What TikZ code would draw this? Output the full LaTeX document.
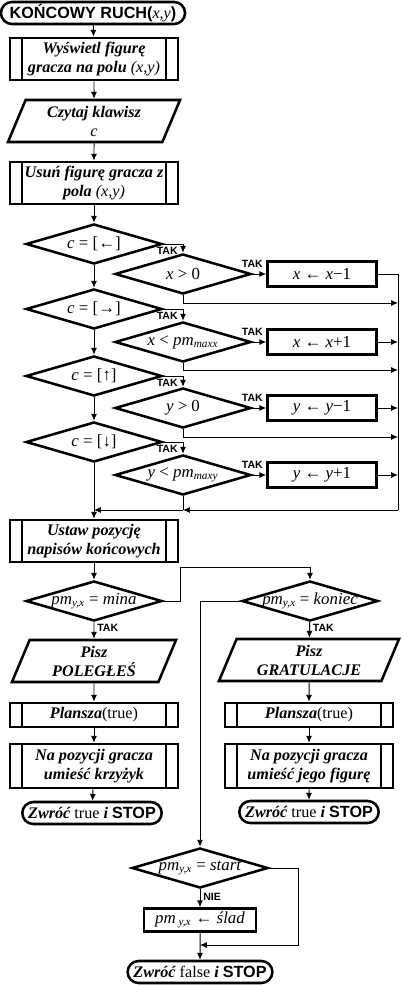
\documentclass[tikz,border=0pt]{standalone}
\usepackage{fontspec}
\setmainfont{Liberation Serif}
\setsansfont{Liberation Sans}
\usetikzlibrary{shapes.geometric,shapes.misc,arrows.meta}
\tikzset{
  base/.style={draw,line width=1.8pt,align=center,inner sep=1pt,
    font=\fontsize{11.5}{13.5}\selectfont\bfseries\itshape},
  term/.style={base,rounded rectangle,minimum height=0.55cm,inner xsep=3pt},
  subproc/.style={base,rectangle,minimum width=4.2cm,minimum height=1.05cm,
    path picture={\draw[line width=1.3pt]
      ([xshift=0.3cm]path picture bounding box.north west) -- ([xshift=0.3cm]path picture bounding box.south west)
      ([xshift=-0.3cm]path picture bounding box.north east) -- ([xshift=-0.3cm]path picture bounding box.south east);}},
  io/.style={base,trapezium,trapezium left angle=62,trapezium right angle=118,
    trapezium stretches body,minimum width=4.3cm,minimum height=1.05cm},
  dec/.style={base,diamond,aspect=3.4,minimum width=3.4cm,minimum height=1cm,
    inner xsep=-20pt,inner ysep=0pt,font=\fontsize{12}{13}\selectfont},
  act/.style={base,rectangle,minimum width=2.725cm,minimum height=0.625cm,
    font=\fontsize{12}{13}\selectfont},
  tak/.style={font=\fontsize{7.5}{9}\selectfont\sffamily\bfseries,inner sep=0pt},
  line/.style={line width=0.7pt,-{Latex[length=1.7mm,width=1.5mm]}},
  rail/.style={line width=0.7pt}
}
\begin{document}
\begin{tikzpicture}[x=0.025cm,y=-0.025cm]
\useasboundingbox (0,0) rectangle (402,985);
\node[term,font=\fontsize{11.5}{13}\selectfont\sffamily\bfseries] (kr) at (93,13) {KOŃCOWY RUCH({\rmfamily\mdseries\itshape x,y})};
\node[subproc] (b1) at (94,59) {Wyświetl figurę\\gracza na polu {\mdseries(x,y)}};
\node[io] (p1) at (94,121) {Czytaj klawisz\\{\mdseries c}};
\node[subproc] (b2) at (94,183) {Usuń figurę gracza z\\pola {\mdseries(x,y)}};
\draw[line] (kr) -- (b1);
\draw[line] (b1) -- (p1);
\draw[line] (p1) -- (b2);
\coordinate (rtop) at (398,274);
\coordinate (rbot) at (398,510);
\foreach \n/\yc/\ys/\key/\cond/\upd in {
  1/244/274/←/{\textit{x} > 0}/{\textit{x} ← \textit{x}−1},
  2/309/342/→/{\textit{x} < \textit{pm}\textsubscript{\textit{maxx}}}/{\textit{x} ← \textit{x}+1},
  3/376/408/↑/{\textit{y} > 0}/{\textit{y} ← \textit{y}−1},
  4/442/475/↓/{\textit{y} < \textit{pm}\textsubscript{\textit{maxy}}}/{\textit{y} ← \textit{y}+1}}{
  \node[dec] (d\n) at (94,\yc) {\textit{c} = [\key]};
  \node[dec] (dx\n) at (183,\ys) {\cond};
  \node[act] (ax\n) at (322,\ys) {\upd};
  \draw[line] (d\n.east) -| (dx\n.north);
  \node[tak,anchor=east] (ta\n) at (178,\yc+7) {TAK};
  \draw[line] (dx\n.east) -- node[tak,above=4pt,pos=0] (tb\n) {TAK} (ax\n.west);
}
\draw[line] (b2) -- (d1);
\draw[line] (d1) -- (d2);
\draw[line] (d2) -- (d3);
\draw[line] (d3) -- (d4);
\draw[rail] (ax1.east) -- (rtop) -- (rbot);
\foreach \n in {2,3,4}{\draw[line] (ax\n.east) -- (ax\n.east -| rbot);}
\foreach \n/\yj in {1/303,2/370,3/437}{
  \coordinate (jb\n) at (183,\yj);
  \draw[line] (dx\n.south) -- (jb\n) -- (jb\n -| rbot);
}
\coordinate (j4) at (183,510);
\coordinate (jl) at (94,510);
\draw[rail] (dx4.south) -- (j4);
\draw[line] (rbot) -- (j4);
\draw[line] (j4) -- (jl);
\node[subproc] (b5) at (94,541) {Ustaw pozycję\\napisów końcowych};
\draw[line] (d4) -- (b5);
\node[dec] (dm) at (94,601) {\textit{pm}\textsubscript{\textit{y,x}} = \textit{mina}};
\node[dec] (dk) at (310,601) {\textit{pm}\textsubscript{\textit{y,x}} = \textit{koniec}};
\draw[line] (b5) -- (dm);
\coordinate (m1) at (180,567);
\draw[line] (dm.east) -| (m1) -| (dk.north);
\node[io,minimum width=4.1cm] (pp1) at (94,661) {Pisz\\POLEGŁEŚ};
\node[subproc,minimum height=0.6cm] (pl1) at (94,715) {Plansza{\upshape\mdseries(true)}};
\node[subproc,minimum height=1.1cm] (nk1) at (94,766) {Na pozycji gracza\\umieść krzyżyk};
\node[term] (st1) at (92,813) {Zwróć {\upshape\mdseries true} i {\sffamily\upshape STOP}};
\node[io,minimum width=4.5cm] (pp2) at (309,660) {Pisz\\GRATULACJE};
\node[subproc,minimum height=0.6cm] (pl2) at (309,715) {Plansza{\upshape\mdseries(true)}};
\node[subproc,minimum height=1.1cm] (nk2) at (309,766) {Na pozycji gracza\\umieść jego figurę};
\node[term] (st2) at (309,812) {Zwróć {\upshape\mdseries true} i {\sffamily\upshape STOP}};
\draw[line] (dm) -- node[tak,right=2pt,pos=0.35] (tm) {TAK} (pp1);
\draw[line] (pp1) -- (pl1);
\draw[line] (pl1) -- (nk1);
\draw[line] (nk1) -- (st1);
\draw[line] (dk) -- node[tak,right=2pt,pos=0.35] (tk) {TAK} (pp2);
\draw[line] (pp2) -- (pl2);
\draw[line] (pl2) -- (nk2);
\draw[line] (nk2) -- (st2);
\node[dec] (ds) at (200,868) {\textit{pm}\textsubscript{\textit{y,x}} = \textit{start}};
\draw[line] (dk.west) -| (ds.north);
\node[act,minimum width=2.8cm,minimum height=0.575cm] (sl) at (200,920) {\textit{pm}\,\textsubscript{\textit{y,x}} ← \textit{ślad}};
\node[term] (sf) at (200,972) {Zwróć {\upshape\mdseries false} i {\sffamily\upshape STOP}};
\draw[line] (ds) -- node[tak,right=2pt,pos=0.4] (nie) {NIE} (sl);
\coordinate (s1) at (298,945);
\coordinate (s2) at (200,945);
\draw[line] (ds.east) -| (s1) -- (s2);
\draw[line] (sl) -- (sf);
\end{tikzpicture}
\end{document}
